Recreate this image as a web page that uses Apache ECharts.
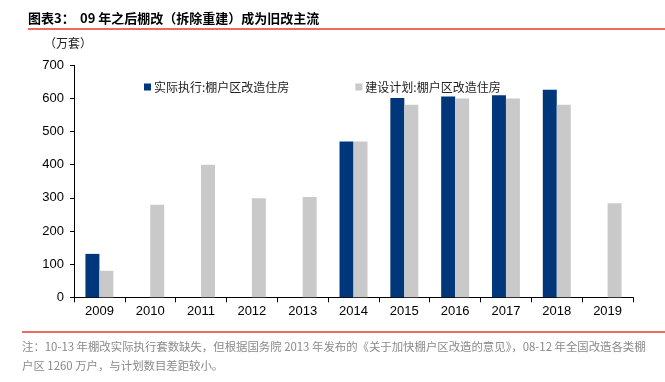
<!DOCTYPE html>
<html><head><meta charset="utf-8">
<script src="https://cdn.jsdelivr.net/npm/echarts@6/dist/echarts.min.js"></script>
<style>html,body{margin:0;padding:0;background:#fff}#c{width:665px;height:382px}</style>
</head><body><div id="c"></div>
<script>
const categories = ['2009','2010','2011','2012','2013','2014','2015','2016','2017','2018','2019'];
const actualName = '实际执行:棚户区改造住房';
const planName = '建设计划:棚户区改造住房';
const actualValues = [131, null, null, null, null, 470, 601, 606, 610, 626, null];
const planValues = [80, 279, 400, 299, 303, 470, 581, 600, 600, 581, 284];
const yTicks = [0, 100, 200, 300, 400, 500, 600, 700];

const chart = echarts.init(document.getElementById('c'), null, {renderer: 'canvas'});
const cjk = '"Noto Sans CJK SC", sans-serif';
chart.setOption({
  animation: false,
  backgroundColor: '#fff',
  grid: {left: 74, right: 32, top: 65.3, bottom: 84.7, containLabel: false},
  legend: {
    left: 139, top: 76,
    itemWidth: 7, itemHeight: 7, itemGap: 66,
    icon: 'rect',
    textStyle: {fontFamily: cjk, fontSize: 12, color: '#222', padding: [0,0,0,-2]},
    data: [actualName, planName]
  },
  xAxis: {
    type: 'category', data: categories,
    axisLine: {lineStyle: {color: '#000', width: 1}},
    axisTick: {show: true, length: 5, lineStyle: {color: '#000'}},
    axisLabel: {fontFamily: 'Liberation Sans, Arial', fontSize: 13, color: '#000', margin: 8}
  },
  yAxis: {
    type: 'value', min: yTicks[0], max: yTicks[yTicks.length-1], interval: 100,
    splitLine: {show: false},
    axisLine: {show: true, lineStyle: {color: '#000', width: 1}},
    axisTick: {show: true, length: 4, lineStyle: {color: '#000'}},
    axisLabel: {fontFamily: 'Liberation Sans, Arial', fontSize: 13, color: '#000', margin: 10}
  },
  series: [
    {name: actualName, type: 'bar', data: actualValues, barGap: '0%', barCategoryGap: '45%',
     itemStyle: {color: '#00377A'}},
    {name: planName, type: 'bar', data: planValues, barGap: '0%', barCategoryGap: '45%',
     itemStyle: {color: '#C9C9C9'}}
  ],
  graphic: [
    {type: 'text', left: 28, top: 12, style: {text: '图表3：', font: 'bold 13px ' + cjk, fill: '#000'}},
    {type: 'text', left: 80, top: 12, style: {text: '09 年之后棚改（拆除重建）成为旧改主流', font: 'bold 13px ' + cjk, fill: '#000'}},
    {type: 'line', shape: {x1: 28, y1: 29, x2: 665, y2: 29}, style: {stroke: '#E8392A', lineWidth: 1.5}},
    {type: 'text', left: 44, top: 37, style: {text: '（万套）', font: '12px ' + cjk, fill: '#222'}},
    {type: 'line', shape: {x1: 22, y1: 332, x2: 665, y2: 332}, style: {stroke: '#E8392A', lineWidth: 1.5}},
    {type: 'text', left: 22, top: 341, style: {text: '注：10-13 年棚改实际执行套数缺失，但根据国务院 2013 年发布的《关于加快棚户区改造的意见》，08-12 年全国改造各类棚', font: '11.4px ' + cjk, fill: '#8a8a8a'}},
    {type: 'text', left: 22, top: 360, style: {text: '户区 1260 万户，与计划数目差距较小。', font: '11.4px ' + cjk, fill: '#8a8a8a'}}
  ]
});
</script></body></html>
